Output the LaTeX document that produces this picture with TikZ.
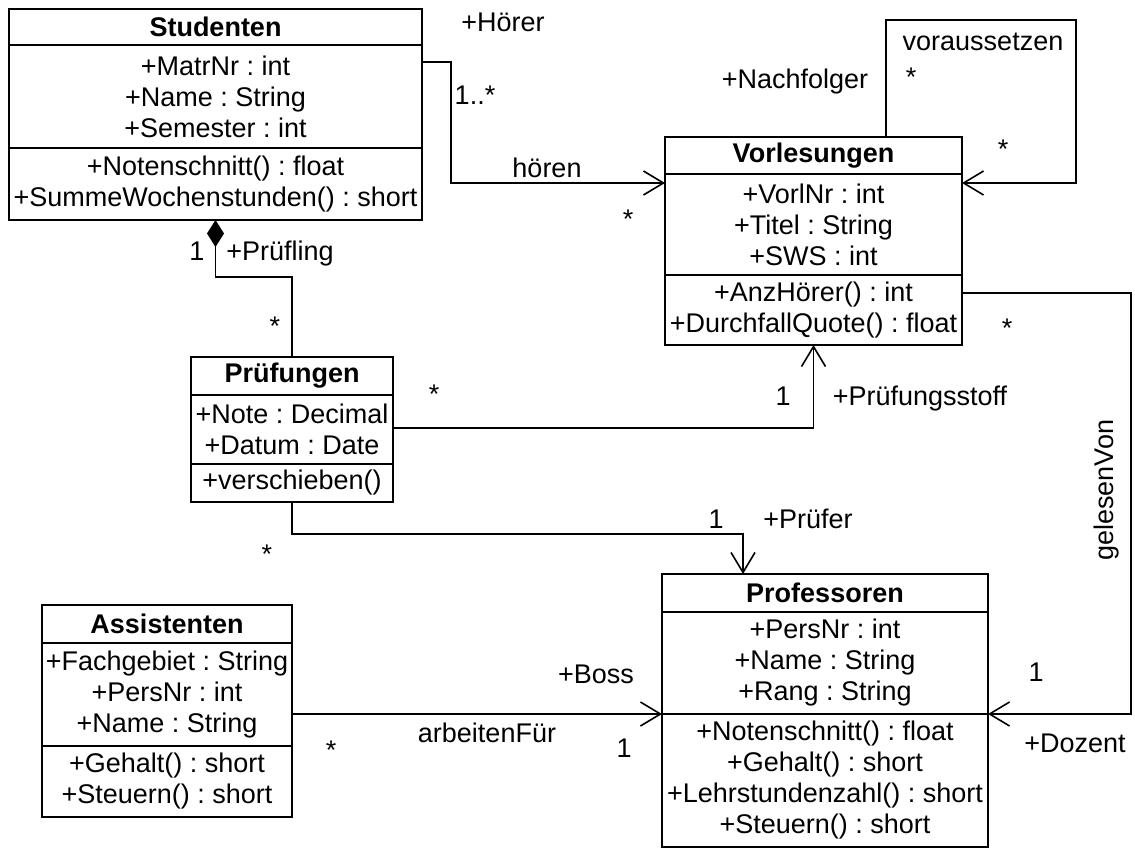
\documentclass[tikz,border=0pt]{standalone}
\usepackage{fontspec}
\setmainfont{Liberation Sans}
\usepackage{tikz}
\usetikzlibrary{arrows.meta}
\frenchspacing

\begin{document}
\begin{tikzpicture}[x=1pt, y=-1pt, line width=1.6pt,
    every node/.style={font=\fontsize{27}{31}\selectfont},
    cls/.style={draw, inner sep=0pt, outer sep=0pt, align=center, minimum width=#1},
    ctitle/.style={cls=#1, font=\fontsize{27}{31}\selectfont\bfseries},
    assoc/.style={-{Straight Barb[length=20pt, width=24pt]}},
    comp/.style={{Diamond[length=27pt, width=17pt]}-},
    lbl/.style={anchor=base, inner sep=0pt}]
    \useasboundingbox (0,0) rectangle (1135,848);

    % Studenten
    \node[ctitle=413pt, minimum height=36pt, anchor=north] (stud) at (215.5,9) {Studenten};
    \node[cls=413pt, minimum height=103pt, anchor=north] (stud-a) at (stud.south)
        {+MatrNr : int\\+Name : String\\+Semester : int};
    \node[cls=413pt, minimum height=72pt, anchor=north] (stud-m) at (stud-a.south)
        {+Notenschnitt() : float\\+SummeWochenstunden() : short};

    % Vorlesungen
    \node[ctitle=297pt, minimum height=37pt, anchor=north] (vorl) at (813.5,137) {Vorlesungen};
    \node[cls=297pt, minimum height=101pt, anchor=north] (vorl-a) at (vorl.south)
        {+VorlNr : int\\+Titel : String\\+SWS : int};
    \node[cls=297pt, minimum height=70pt, anchor=north] (vorl-m) at (vorl-a.south)
        {+AnzHörer() : int\\+DurchfallQuote() : float};

    % Pruefungen
    \node[ctitle=202pt, minimum height=38pt, anchor=north] (pruef) at (292,357) {Prüfungen};
    \node[cls=202pt, minimum height=69pt, anchor=north] (pruef-a) at (pruef.south)
        {+Note : Decimal\\+Datum : Date};
    \node[cls=202pt, minimum height=38pt, anchor=north] (pruef-m) at (pruef-a.south)
        {+verschieben()};

    % Professoren
    \node[ctitle=326pt, minimum height=38pt, anchor=north] (prof) at (825,574) {Professoren};
    \node[cls=326pt, minimum height=102pt, anchor=north] (prof-a) at (prof.south)
        {+PersNr : int\\+Name : String\\+Rang : String};
    \node[cls=326pt, minimum height=133pt, anchor=north] (prof-m) at (prof-a.south)
        {+Notenschnitt() : float\\+Gehalt() : short\\+Lehrstundenzahl() : short\\+Steuern() : short};

    % Assistenten
    \node[ctitle=250pt, minimum height=38pt, anchor=north] (assi) at (167,605) {Assistenten};
    \node[cls=250pt, minimum height=103pt, anchor=north] (assi-a) at (assi.south)
        {+Fachgebiet : String\\+PersNr : int\\+Name : String};
    \node[cls=250pt, minimum height=71pt, anchor=north] (assi-m) at (assi-a.south)
        {+Gehalt() : short\\+Steuern() : short};

    % Associations
    \draw[assoc] (stud-a.east |- 0,62) -| (451,183) -- (vorl-a.west |- 0,183);
    \draw[assoc] (vorl.north -| 886,0) |- (1076,20) |- (vorl-a.east |- 0,183);
    \draw[assoc] (vorl-m.east |- 0,293) -| (1131,714) -- (prof-m.north east);
    \draw[comp] (stud-m.south) |- (292,277) -- (pruef.north);
    \draw[assoc] (pruef-a.east |- 0,428) -| (vorl-m.south);
    \draw[assoc] (pruef-m.south) |- (743,534) -- (prof.north -| 743,0);
    \draw[assoc] (assi-a.east |- prof-m.north west) -- (prof-m.north west);

    % Role names
    \node[lbl] (hoerer) at (503,32) {+Hörer};
    \node[lbl] (hoeren) at (547,177) {hören};
    \node[lbl] (nachf) at (795,89) {+Nachfolger};
    \node[lbl] (vorauss) at (983,51) {voraussetzen};
    \node[lbl] (pruefling) at (280,260) {+Prüfling};
    \node[lbl] (stoff) at (920,405) {+Prüfungsstoff};
    \node[lbl] (pruefer) at (808,528) {+Prüfer};
    \node[lbl, rotate=90] (gelesen) at (1113,490) {gelesenVon};
    \node[lbl] (dozent) at (1075,752) {+Dozent};
    \node[lbl] (boss) at (596,683) {+Boss};
    \node[lbl] (arbeiten) at (487,742) {arbeitenFür};

    % Multiplicities
    \node[lbl] (m-hoerer) at (475,105) {1..*};
    \foreach \x/\y [count=\i] in {628/228, 911/87, 1003/158, 1007/337, 275/335, 434/403, 267/563, 331/759}
        \node[lbl] (star\i) at (\x,\y) {*};
    \foreach \x/\y [count=\i] in {197/260, 783/405, 716/528, 1036/681, 624/757}
        \node[lbl] (one\i) at (\x,\y) {1};
\end{tikzpicture}
\end{document}
